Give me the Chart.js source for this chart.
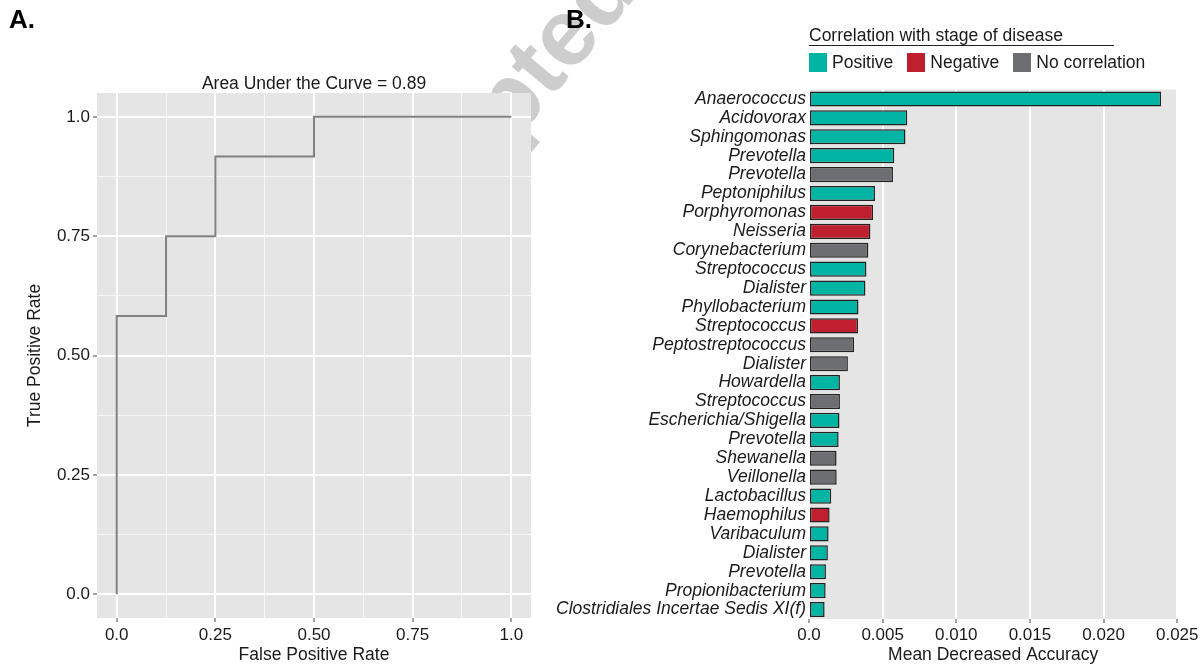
<!DOCTYPE html>
<html>
<head>
  <meta charset="utf-8" />
  <title>ROC curve and genus importance</title>
  <style>
    body { margin: 0; background: #fff; font-family: "Liberation Sans", Arial, sans-serif; }
    #wrap { position: relative; width: 1201px; height: 669px; overflow: hidden; }
    #watermark {
      position: absolute; left: 305px; top: 267px; transform-origin: 0 0; transform: rotate(-50deg);
      font-size: 95px; line-height: 1; font-weight: bold; color: #cdcdcd; white-space: nowrap;
    }
    .panel-tag { position: absolute; top: 4px; font-size: 26px; font-weight: bold; color: #000; }
    #roc-box { position: absolute; left: 0; top: 0; }
    #acc-box { position: absolute; left: 545px; top: 0; }
    #legend { position: absolute; left: 809px; top: 25px; color: #1a1a1a; font-size: 17.5px; }
    #legend-title { width: 305px; line-height: 20px; border-bottom: 1px solid #222; }
    #legend-items { display: flex; margin-top: 7px; }
    .legend-item { display: flex; align-items: center; margin-right: 14px; line-height: 19px; }
    .legend-key { width: 18px; height: 19px; margin-right: 5px; }
  </style>
</head>
<body>
  <div id="wrap">
    <div id="watermark">Accepted</div>
    <div id="roc-box"><canvas id="roc" width="545" height="669"></canvas></div>
    <div id="acc-box"><canvas id="acc" width="656" height="669"></canvas></div>
    <div class="panel-tag" style="left:9px;">A.</div>
    <div class="panel-tag" style="left:566px;">B.</div>
    <div id="legend">
      <div id="legend-title">Correlation with stage of disease</div>
      <div id="legend-items"></div>
    </div>
  </div>

  <script src="https://cdn.jsdelivr.net/npm/chart.js"></script>
  <script>
    // panel A: ROC curve
    const rocFpr = [0, 0, 0.125, 0.125, 0.25, 0.25, 0.5, 0.5, 1];
    const rocTpr = [0, 0.583, 0.583, 0.75, 0.75, 0.917, 0.917, 1, 1];
    const rocGrid = [0, 0.125, 0.25, 0.375, 0.5, 0.625, 0.75, 0.875, 1];
    const rocMajor = [0, 0.25, 0.5, 0.75, 1];
    const rocMajorLabels = ['0.0', '0.25', '0.50', '0.75', '1.0'];

    // panel B: mean decreased accuracy per genus
    const genera = ['Anaerococcus', 'Acidovorax', 'Sphingomonas', 'Prevotella', 'Prevotella', 'Peptoniphilus',
      'Porphyromonas', 'Neisseria', 'Corynebacterium', 'Streptococcus', 'Dialister', 'Phyllobacterium',
      'Streptococcus', 'Peptostreptococcus', 'Dialister', 'Howardella', 'Streptococcus', 'Escherichia/Shigella',
      'Prevotella', 'Shewanella', 'Veillonella', 'Lactobacillus', 'Haemophilus', 'Varibaculum', 'Dialister',
      'Prevotella', 'Propionibacterium', 'Clostridiales Incertae Sedis XI(f)'];
    const importance = [0.0239, 0.00667, 0.00655, 0.00579, 0.0057, 0.00448, 0.00435, 0.00417, 0.00403, 0.0039,
      0.00383, 0.00336, 0.00333, 0.00306, 0.00264, 0.0021, 0.0021, 0.00207, 0.00201, 0.00187,
      0.00188, 0.00151, 0.0014, 0.00133, 0.00128, 0.00115, 0.00113, 0.00106];
    const correlation = ['Positive', 'Positive', 'Positive', 'Positive', 'No correlation', 'Positive',
      'Negative', 'Negative', 'No correlation', 'Positive', 'Positive', 'Positive',
      'Negative', 'No correlation', 'No correlation', 'Positive', 'No correlation', 'Positive',
      'Positive', 'No correlation', 'No correlation', 'Positive', 'Negative', 'Positive', 'Positive',
      'Positive', 'Positive', 'Positive'];
    const corrGroups = ['Positive', 'Negative', 'No correlation'];
    const accTicks = [0, 0.005, 0.01, 0.015, 0.02, 0.025];
    const accTickLabels = ['0.0', '0.005', '0.010', '0.015', '0.020', '0.025'];

    const corrColors = { 'Positive': '#00b5a4', 'Negative': '#c01f2f', 'No correlation': '#6d6e71' };

    Chart.defaults.font.family = '"Liberation Sans", Arial, sans-serif';
    Chart.defaults.color = '#1a1a1a';

    // grey panel behind the grid, ggplot style
    const panelBg = {
      id: 'panelBg',
      beforeDraw(chart) {
        const { ctx, chartArea: a } = chart;
        ctx.save();
        ctx.fillStyle = '#e5e5e5';
        ctx.fillRect(a.left, a.top, a.right - a.left, a.bottom - a.top);
        ctx.restore();
      }
    };

    function isMajor(v) { return rocMajor.indexOf(v) >= 0; }
    function rocLabel(v) { const i = rocMajor.indexOf(v); return i < 0 ? '' : rocMajorLabels[i]; }

    const rocGridOpts = {
      color: c => isMajor(c.tick.value) ? '#ffffff' : 'rgba(255,255,255,0.65)',
      lineWidth: c => isMajor(c.tick.value) ? 2 : 1,
      tickColor: c => isMajor(c.tick.value) ? '#444' : 'rgba(0,0,0,0)',
      tickWidth: 1,
      tickLength: 4
    };

    new Chart(document.getElementById('roc'), {
      type: 'line',
      data: {
        datasets: [{
          data: rocFpr.map((x, i) => ({ x: x, y: rocTpr[i] })),
          borderColor: '#808080',
          borderWidth: 2,
          pointRadius: 0,
          tension: 0,
          fill: false
        }]
      },
      options: {
        responsive: false,
        animation: false,
        layout: { padding: { right: 14 } },
        plugins: {
          legend: { display: false },
          tooltip: { enabled: false },
          title: {
            display: true, text: 'Area Under the Curve = 0.89', fullSize: false,
            color: '#1a1a1a', font: { size: 17.5, weight: 'normal' }, padding: { top: 74, bottom: -2 }
          }
        },
        scales: {
          x: {
            type: 'linear', min: -0.05, max: 1.05,
            afterBuildTicks: s => { s.ticks = rocGrid.map(v => ({ value: v })); },
            afterFit: s => { s.height = 51; },
            ticks: { autoSkip: false, maxRotation: 0, padding: 3, font: { size: 17 }, callback: rocLabel },
            grid: rocGridOpts,
            border: { display: false },
            title: { display: true, text: 'False Positive Rate', font: { size: 17.5 }, padding: { top: 0, bottom: 3.5 } }
          },
          y: {
            type: 'linear', min: -0.05, max: 1.05,
            afterBuildTicks: s => { s.ticks = rocGrid.map(v => ({ value: v })); },
            afterFit: s => { s.width = 97; },
            ticks: { autoSkip: false, padding: 3, font: { size: 17 }, callback: rocLabel },
            grid: rocGridOpts,
            border: { display: false },
            title: { display: true, text: 'True Positive Rate', font: { size: 17.5 }, padding: { top: 24.5, bottom: 0 } }
          }
        }
      },
      plugins: [panelBg]
    });

    new Chart(document.getElementById('acc'), {
      type: 'bar',
      data: {
        labels: genera,
        datasets: [{
          data: importance,
          backgroundColor: correlation.map(c => corrColors[c]),
          borderColor: '#222',
          borderWidth: 1.5,
          borderSkipped: false,
          barPercentage: 0.8,
          categoryPercentage: 1
        }]
      },
      options: {
        indexAxis: 'y',
        responsive: false,
        animation: false,
        layout: { padding: { top: 89.5, right: 21 } },
        plugins: { legend: { display: false }, tooltip: { enabled: false } },
        scales: {
          x: {
            min: 0, max: 0.025,
            afterBuildTicks: s => { s.ticks = accTicks.map(v => ({ value: v })); },
            afterFit: s => { s.height = 50; },
            ticks: {
              autoSkip: false, maxRotation: 0, padding: 2.5, font: { size: 17 },
              callback: v => accTickLabels[accTicks.indexOf(v)]
            },
            grid: { color: '#ffffff', lineWidth: 2, tickColor: '#444', tickWidth: 1, tickLength: 4 },
            border: { display: false },
            title: { display: true, text: 'Mean Decreased Accuracy', font: { size: 17.5 }, padding: { top: 0, bottom: 3.5 } }
          },
          y: {
            afterFit: s => { s.width = 264; },
            grid: { display: false, drawTicks: false, tickLength: 0 },
            border: { display: false },
            ticks: { autoSkip: false, padding: 3, font: { size: 17.5, style: 'italic' } }
          }
        }
      },
      plugins: [panelBg]
    });

    // legend for the correlation groups
    const items = document.getElementById('legend-items');
    corrGroups.forEach(g => {
      const it = document.createElement('div');
      it.className = 'legend-item';
      it.innerHTML = '<span class="legend-key" style="background:' + corrColors[g] + '"></span><span>' + g + '</span>';
      items.appendChild(it);
    });
  </script>
</body>
</html>
